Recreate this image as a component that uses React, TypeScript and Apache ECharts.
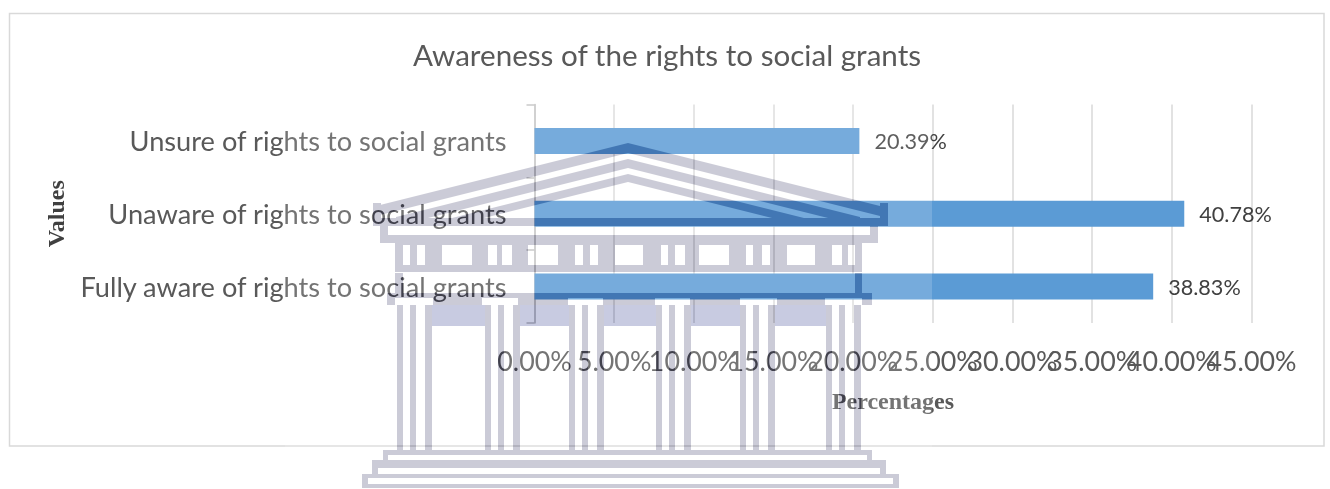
import React, { useEffect, useRef } from "react";
import * as echarts from "echarts";

const categories = [
  "Fully aware of rights to social grants",
  "Unaware of rights to social grants",
  "Unsure of rights to social grants",
];
const shares = [38.83, 40.78, 20.39];

const titleText = "Awareness of the rights to social grants";
const xAxisName = "Percentages";
const yAxisName = "Values";

const AXIS_MIN = 0;
const AXIS_MAX = 45;
const AXIS_STEP = 5;

const WIDTH = 1330;
const HEIGHT = 489;

// University crest colours, applied with a difference blend so it darkens whatever lies beneath.
const CREST_GREY = "#343428";
const CREST_LILAC = "#37341e";

type Box = [number, number, number, number];

const rectEl = ([x, y, width, height]: Box, fill: string) => ({
  type: "rect",
  silent: true,
  shape: { x, y, width, height },
  style: { fill },
});

// One roof stripe, running down both sides from the ridge until it meets the flat cornice.
function roofStripe(top: number, bottom: number) {
  const ridge = 628;
  const slope = 0.25;
  const floor = 226;
  const reachLeft = Math.min(ridge - 373, (floor - bottom) / slope);
  const reachRight = Math.min(888 - ridge, (floor - bottom) / slope);
  return {
    type: "polygon",
    silent: true,
    shape: {
      points: [
        [ridge, top],
        [ridge + reachRight, top + reachRight * slope],
        [ridge + reachRight, bottom + reachRight * slope],
        [ridge, bottom],
        [ridge - reachLeft, bottom + reachLeft * slope],
        [ridge - reachLeft, top + reachLeft * slope],
      ],
    },
    style: { fill: CREST_GREY },
  };
}

// Solid pieces of a horizontal band that has openings cut out of it.
function bandWithOpenings(x0: number, x1: number, y: number, h: number, openings: number[][]): Box[] {
  const out: Box[] = [];
  let cursor = x0;
  for (const [a, b] of openings) {
    out.push([cursor, y, a - cursor, h]);
    cursor = b;
  }
  out.push([cursor, y, x1 - cursor, h]);
  return out;
}

const friezeWindows = [
  [403, 410], [417, 425], [442, 472], [488, 497], [502, 512], [528, 558],
  [575, 583], [590, 598], [615, 643], [661, 668], [675, 685], [699, 729],
  [746, 753], [762, 770], [787, 815], [832, 842], [848, 855],
];
const capitalOpenings = [
  [395, 433], [482, 518], [568, 603], [655, 690], [740, 777], [825, 862],
];
const columnStarts = [397, 485, 569, 656, 740, 826];
const columnStripes = [[0, 6], [13, 19], [28, 35]];

function crestElements() {
  const boxes: Box[] = [
    // roof ends and flat cornice
    [373, 203, 8, 23], [880, 203, 8, 23], [373, 218, 515, 8],
    [380, 226, 8, 17], [870, 226, 8, 17], [380, 235, 498, 8],
    // frieze
    [395, 243, 467, 2],
    ...bandWithOpenings(395, 862, 245, 20, friezeWindows),
    [395, 265, 467, 7],
    // architrave
    [395, 273, 8, 20], [855, 273, 7, 20],
    [387, 293, 485, 5],
    ...bandWithOpenings(387, 872, 298, 7, capitalOpenings),
    // steps
    [383, 450, 489, 5], [383, 455, 5, 5], [867, 455, 5, 5],
    [372, 460, 514, 8], [372, 468, 6, 6], [880, 468, 6, 6],
    [362, 474, 537, 4], [362, 478, 6, 6], [893, 478, 6, 6],
    [362, 484, 537, 4],
  ];
  for (const start of columnStarts) {
    for (const [a, b] of columnStripes) {
      boxes.push([start + a, 305, b - a, 145]);
    }
  }
  const lintels: Box[] = [];
  for (let i = 0; i + 1 < columnStarts.length; i++) {
    const left = columnStarts[i] + 35;
    lintels.push([left, 305, columnStarts[i + 1] - left, 21]);
  }
  return [
    roofStripe(143, 153),
    roofStripe(159, 168),
    roofStripe(174, 182),
    ...boxes.map((b) => rectEl(b, CREST_GREY)),
    ...lintels.map((b) => rectEl(b, CREST_LILAC)),
  ];
}

const layerStyle: React.CSSProperties = {
  position: "absolute",
  left: 0,
  top: 0,
  width: WIDTH,
  height: HEIGHT,
};

const percentText = (v: number) => v.toFixed(2) + "%";

const tickLabelStyle = {
  margin: 24,
  hideOverlap: false,
  showMinLabel: true,
  showMaxLabel: true,
  fontFamily: "Lato",
  fontSize: 26.8,
  color: "#595959",
};

export default function App() {
  const chartRef = useRef<HTMLDivElement>(null);
  const crestRef = useRef<HTMLDivElement>(null);

  useEffect(() => {
    const chart = echarts.init(chartRef.current!, null, { renderer: "svg" });
    const crest = echarts.init(crestRef.current!, null, { renderer: "svg" });

    chart.setOption({
      animation: false,
      backgroundColor: "#ffffff",
      title: {
        text: titleText,
        left: 662,
        top: 34,
        textAlign: "center",
        textStyle: { fontFamily: "Lato", fontSize: 29.6, fontWeight: "normal", color: "#595959" },
      },
      grid: { left: 534.5, right: 78.5, top: 104.5, bottom: 166 },
      xAxis: [
        {
          type: "value",
          position: "bottom",
          min: AXIS_MIN,
          max: AXIS_MAX,
          interval: AXIS_STEP,
          name: xAxisName,
          nameLocation: "middle",
          nameGap: 66,
          nameTextStyle: {
            fontFamily: "Liberation Serif",
            fontWeight: "bold",
            fontSize: 24,
            color: "#595959",
          },
          axisLine: { show: false },
          axisTick: { show: false },
          axisLabel: {
            ...tickLabelStyle,
            formatter: (v: number) => (v === AXIS_MAX ? "" : percentText(v)),
          },
          splitLine: { show: true, lineStyle: { color: "#d9d9d9", width: 1.5 } },
        },
        // The last label sits on its own axis, since the wide labels would otherwise knock out their neighbour.
        {
          type: "value",
          position: "bottom",
          min: AXIS_MIN,
          max: AXIS_MAX,
          interval: AXIS_STEP,
          axisLine: { show: false },
          axisTick: { show: false },
          splitLine: { show: false },
          axisLabel: {
            ...tickLabelStyle,
            formatter: (v: number) => (v === AXIS_MAX ? percentText(v) : ""),
          },
        },
      ],
      yAxis: {
        type: "category",
        data: categories,
        name: yAxisName,
        nameLocation: "middle",
        nameGap: 467,
        nameTextStyle: {
          fontFamily: "Liberation Serif",
          fontWeight: "bold",
          fontSize: 24,
          color: "#404040",
        },
        axisLine: { show: true, lineStyle: { color: "#bfbfbf", width: 1.5 } },
        axisTick: { show: true, length: 8, lineStyle: { color: "#bfbfbf", width: 1.5 } },
        axisLabel: {
          margin: 28,
          fontFamily: "Lato",
          fontSize: 27.2,
          color: "#595959",
        },
      },
      series: [
        {
          type: "bar",
          data: shares,
          xAxisIndex: 0,
          barWidth: 26,
          itemStyle: { color: "#5b9bd5" },
          label: {
            show: true,
            position: "right",
            distance: 15,
            fontFamily: "Lato",
            fontSize: 21.6,
            color: "#404040",
            formatter: (p: any) => percentText(Number(p.value)),
          },
        },
      ],
      graphic: [
        {
          type: "rect",
          silent: true,
          z: -1,
          shape: { x: 9.5, y: 13.5, width: 1314.5, height: 432.5 },
          style: { fill: "transparent", stroke: "#d9d9d9", lineWidth: 1.5 },
        },
        // pale veil that sits behind the crest and lifts everything it covers
        {
          type: "rect",
          silent: true,
          z: 100,
          shape: { x: 285, y: 100, width: 647, height: 389 },
          style: { fill: "rgba(255,255,255,0.165)" },
        },
      ],
    });

    crest.setOption({ animation: false, graphic: crestElements() });

    return () => {
      chart.dispose();
      crest.dispose();
    };
  }, []);

  return (
    <div style={{ ...layerStyle, position: "fixed", background: "#fff" }}>
      <div ref={chartRef} style={layerStyle} />
      <div ref={crestRef} style={{ ...layerStyle, mixBlendMode: "difference", pointerEvents: "none" }} />
    </div>
  );
}
